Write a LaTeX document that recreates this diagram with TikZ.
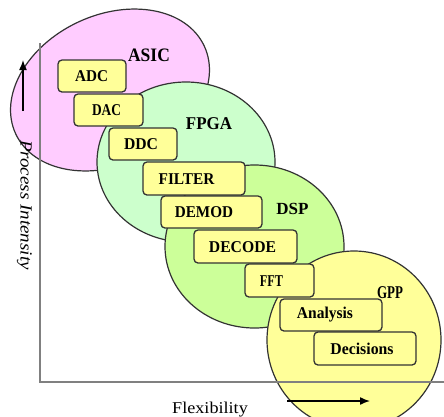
\documentclass[tikz,border=0pt]{standalone}
\usepackage{graphicx}
\usepackage{fontspec}
\setmainfont{Liberation Serif}
\usetikzlibrary{arrows.meta}

\definecolor{asicfill}{HTML}{FFCCFF}
\definecolor{fpgafill}{HTML}{CCFFCC}
\definecolor{dspfill}{HTML}{CCFF99}
\definecolor{gppfill}{HTML}{FFFF99}
\definecolor{boxfill}{HTML}{FFFF99}
\definecolor{edge}{HTML}{333333}
\definecolor{axisgray}{HTML}{808080}

% horizontally condensed text
\newcommand\narrowtext[2]{\scalebox{#1}[1]{#2}}

\tikzset{
  region/.style={draw=edge, line width=1.2pt},
  stagebox/.style={draw=edge, line width=1.3pt, fill=boxfill, rounded corners=4pt},
  stagetext/.style={inner sep=0pt, font=\fontsize{16.5}{19}\selectfont\bfseries},
  regionlabel/.style={inner sep=0pt, font=\fontsize{18}{21}\selectfont\bfseries},
  axisline/.style={draw=axisgray, line width=2pt},
  axisarrow/.style={draw=black, line width=1.5pt, -{Latex[length=10pt,width=8pt]}},
  axislabel/.style={inner sep=0pt, font=\fontsize{16.5}{20}\selectfont}
}

\begin{document}
\begin{tikzpicture}[x=1pt, y=-1pt]
\useasboundingbox (0,0) rectangle (444,416);

% technology regions, back to front
\path[region, fill=asicfill, rotate around={25:(110,90)}]
  (110,90) ellipse [x radius=104, y radius=75];
\path[region, fill=fpgafill] (186,162) ellipse [x radius=89, y radius=80];
\path[region, fill=dspfill] (254.5,246.5) ellipse [x radius=89.5, y radius=81.5];
\path[region, fill=gppfill] (354,340) ellipse [x radius=87, y radius=89];

% axes
\coordinate (origin) at (40,382);
\coordinate (ytop) at (40,43);
\coordinate (xend) at (444,382);
\draw[axisline] (ytop) -- (origin) -- (xend);

% processing stages
\path[stagebox] (58,60) rectangle (126,92);
\node[stagetext] (adc) at (91.6,76.5) {\narrowtext{0.92}{ADC}};
\path[stagebox] (74,94) rectangle (143,126);
\node[stagetext] (dac) at (106.5,110.5) {\narrowtext{0.81}{DAC}};
\path[stagebox] (109,128) rectangle (177,160);
\node[stagetext] (ddc) at (141,144.5) {\narrowtext{0.95}{DDC}};
\path[stagebox] (143,162) rectangle (245,195);
\node[stagetext] (filter) at (186.5,179) {\narrowtext{0.93}{FILTER}};
\path[stagebox] (161,196) rectangle (262,228);
\node[stagetext] (demod) at (204,212.5) {\narrowtext{0.92}{DEMOD}};
\path[stagebox] (194,230) rectangle (297,263);
\node[stagetext] (decode) at (242.5,247) {\narrowtext{0.95}{DECODE}};
\path[stagebox] (245,264) rectangle (314,297);
\node[stagetext] (fft) at (271.5,281) {\narrowtext{0.74}{FFT}};
\path[stagebox] (280,299) rectangle (382,331);
\node[stagetext] (analysis) at (325,315) {\narrowtext{0.94}{Analysis}};
\path[stagebox] (314,332) rectangle (416,365);
\node[stagetext] (decisions) at (362,348.5) {\narrowtext{0.955}{Decisions}};

% region names
\node[regionlabel, font=\fontsize{19}{22}\selectfont\bfseries] (asic) at (149,55) {\narrowtext{0.92}{ASIC}};
\node[regionlabel] (fpga) at (209,124) {\narrowtext{0.94}{FPGA}};
\node[regionlabel, font=\fontsize{17}{20}\selectfont\bfseries] (dsp) at (292.5,208.5) {DSP};
\node[regionlabel] (gpp) at (390,293) {\narrowtext{0.72}{GPP}};

% axis captions and direction arrows
\node[axislabel, rotate=-90, font=\fontsize{17}{20}\selectfont\itshape] (intensity) at (24.5,205) {\narrowtext{1.12}{Process Intensity}};
\node[axislabel, anchor=base] (flex) at (210,413) {\narrowtext{1.1}{Flexibility}};
\coordinate (upfrom) at (23,111);
\coordinate (upto) at (23,60);
\draw[axisarrow] (upfrom) -- (upto);
\coordinate (rightfrom) at (287,401);
\coordinate (rightto) at (370,401);
\draw[axisarrow] (rightfrom) -- (rightto);
\end{tikzpicture}
\end{document}
